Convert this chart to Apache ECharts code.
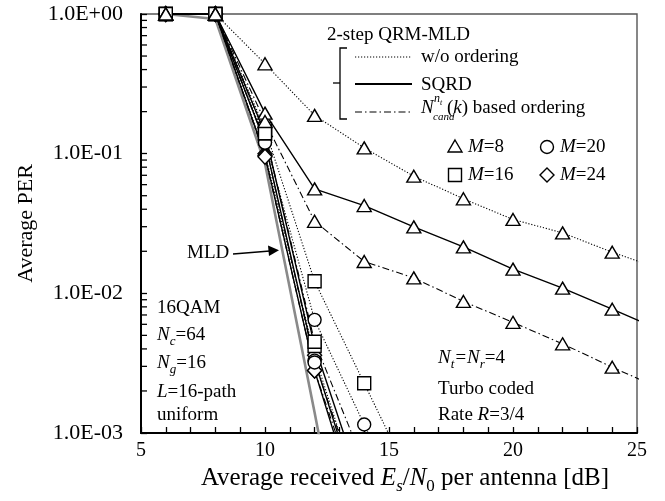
<!DOCTYPE html>
<html>
<head>
<meta charset="utf-8">
<script src="https://cdn.jsdelivr.net/npm/echarts@6/dist/echarts.min.js"></script>
<style>
html, body { margin: 0; padding: 0; background: #fff; }
#chart { width: 665px; height: 501px; }
</style>
</head>
<body>
<div id="chart"></div>
<script>
// x points, Es/N0 [dB]
var snrDb = [6, 8, 10, 12, 14, 16, 18, 20, 22, 24, 26];
var xTickLabels = [5, 10, 15, 20, 25];
var yTickLabels = ['1.0E-03', '1.0E-02', '1.0E-01', '1.0E+00'];

// MLD
var perMld = [1, 0.92, 0.085, 0.0014, 0.00002];
// M=8
var perM8Wo = [1, 1, 0.44, 0.188, 0.110, 0.069, 0.0475, 0.0338, 0.0271, 0.0197, 0.0148];
var perM8Sqrd = [1, 1, 0.195, 0.056, 0.0425, 0.0299, 0.0215, 0.0149, 0.0109, 0.0077, 0.0054];
var perM8Cand = [1, 1, 0.17, 0.0328, 0.0169, 0.0129, 0.00875, 0.0062, 0.00435, 0.00296, 0.00206];
// M=16
var perM16Wo = [1, 1, 0.15, 0.0122, 0.00227, 0.00042];
var perM16Sqrd = [1, 1, 0.14, 0.0042, 0.00036];
var perM16Cand = [1, 1, 0.14, 0.0045, 0.0006];
// M=20
var perM20Wo = [1, 1, 0.125, 0.00646, 0.00115, 0.0002];
var perM20Sqrd = [1, 1, 0.12, 0.0033, 0.00025];
var perM20Cand = [1, 1, 0.12, 0.0032, 0.0003];
// M=24
var perM24Wo = [1, 1, 0.10, 0.0036, 0.00028];
var perM24Sqrd = [1, 1, 0.097, 0.0028, 0.0002];
var perM24Cand = [1, 1, 0.095, 0.0028, 0.00025];

var FONT = 'Liberation Serif, Times New Roman, serif';
var DOTTED = [1.2, 1.8];
var DASHDOT = [7, 3, 1.5, 3];

var symbolSizes = { triangle: [14, 12], rect: 13, circle: 13, diamond: [14, 15] };

function qrmSeries(values, symbol, kind) {
    var style = { color: '#000', width: 1.1, type: 'solid' };
    if (kind === 'wo') style.type = DOTTED;
    if (kind === 'cand') style.type = DASHDOT;
    if (kind === 'sqrd') style.width = 1.4;
    return {
        type: 'line',
        data: values.map(function(v, i) { return [snrDb[i], v]; }),
        symbol: symbol,
        symbolSize: symbolSizes[symbol],
        showAllSymbol: true,
        lineStyle: style,
        itemStyle: { color: '#fff', borderColor: '#000', borderWidth: 1.4 },
        emphasis: { disabled: true },
        z: 3
    };
}

var series = [{
    type: 'line',
    data: perMld.map(function(v, i) { return [snrDb[i], v]; }),
    symbol: 'none',
    lineStyle: { color: '#8a8a8a', width: 2.6 },
    z: 2
}];
[
    [perM24Wo, 'diamond', 'wo'], [perM24Sqrd, 'diamond', 'sqrd'], [perM24Cand, 'diamond', 'cand'],
    [perM20Wo, 'circle', 'wo'], [perM20Sqrd, 'circle', 'sqrd'], [perM20Cand, 'circle', 'cand'],
    [perM16Wo, 'rect', 'wo'], [perM16Sqrd, 'rect', 'sqrd'], [perM16Cand, 'rect', 'cand'],
    [perM8Wo, 'triangle', 'wo'], [perM8Sqrd, 'triangle', 'sqrd'], [perM8Cand, 'triangle', 'cand']
].forEach(function(s) { series.push(qrmSeries(s[0], s[1], s[2])); });

function makeRich(size, sub, lh) {
    return {
        n: { fontFamily: FONT, fontSize: size, lineHeight: lh, color: '#000' },
        i: { fontFamily: FONT, fontSize: size, lineHeight: lh, fontStyle: 'italic', color: '#000' },
        sub: { fontFamily: FONT, fontSize: sub, lineHeight: sub, fontStyle: 'italic', verticalAlign: 'bottom', color: '#000' },
        subn: { fontFamily: FONT, fontSize: sub, lineHeight: sub, verticalAlign: 'bottom', color: '#000' }
    };
}
var rich = makeRich(19, 13, 26);
var titleRich = makeRich(25, 17, 33);

function label(x, y, text) {
    return {
        type: 'text', x: x, y: y, z: 10,
        style: { text: text, rich: rich, fill: '#000', font: '19px ' + FONT,
                 align: 'left', verticalAlign: 'middle', textAlign: 'left', textVerticalAlign: 'middle' }
    };
}
function plain(x, y, text, size, italic) {
    return {
        type: 'text', x: x, y: y, z: 10,
        style: { text: text, fill: '#000', font: (italic ? 'italic ' : '') + size + 'px ' + FONT,
                 align: 'left', verticalAlign: 'middle', textAlign: 'left', textVerticalAlign: 'middle' }
    };
}
function seg(x1, y1, x2, y2, dash, w) {
    return { type: 'line', z: 10, shape: { x1: x1, y1: y1, x2: x2, y2: y2 },
             style: { stroke: '#000', lineWidth: w || 1.3, lineDash: dash || null } };
}
var mk = { fill: '#fff', stroke: '#000', lineWidth: 1.4 };

var annotations = [
    plain(327, 35, '2-step QRM-MLD', 19),
    // bracket
    { type: 'polyline', z: 10, shape: { points: [[347, 48], [340, 48], [340, 119], [347, 119]] }, style: { stroke: '#000', lineWidth: 1.3, fill: null } },
    seg(333, 83, 340, 83),
    seg(355, 57, 412, 57, DOTTED, 1.1),
    seg(355, 84, 412, 84, null, 2),
    seg(355, 112, 412, 112, DASHDOT, 1.1),
    plain(421, 57, 'w/o ordering', 19),
    plain(421, 85, 'SQRD', 19),
    plain(421, 108, 'N', 19, true),
    plain(434, 99, 'n', 12, true),
    plain(440, 103, 't', 8, true),
    plain(433, 117, 'cand', 11, true),
    label(447, 108, '{n|(}{i|k}{n|) based ordering}'),
    // marker legend
    { type: 'polygon', z: 10, shape: { points: [[455, 140], [462, 152], [448, 152]] }, style: mk },
    label(468, 147, '{i|M}{n|=8}'),
    { type: 'circle', z: 10, shape: { cx: 547, cy: 147, r: 6.5 }, style: mk },
    label(560, 147, '{i|M}{n|=20}'),
    { type: 'rect', z: 10, shape: { x: 448.5, y: 168.5, width: 13, height: 13 }, style: mk },
    label(468, 175, '{i|M}{n|=16}'),
    { type: 'polygon', z: 10, shape: { points: [[547, 168], [554, 175], [547, 182], [540, 175]] }, style: mk },
    label(560, 175, '{i|M}{n|=24}'),
    // MLD arrow
    plain(187, 253, 'MLD', 19),
    seg(233, 254, 270, 251),
    { type: 'polygon', z: 10, shape: { points: [[279, 250.3], [268, 245.5], [269, 256]] }, style: { fill: '#000' } },
    // bottom-left
    plain(157, 308, '16QAM', 19),
    label(157, 335, '{i|N}{sub|c}{n|=64}'),
    label(157, 363, '{i|N}{sub|g}{n|=16}'),
    label(157, 392, '{i|L}{n|=16-path}'),
    plain(157, 415, 'uniform', 19),
    // bottom-right
    label(438, 358, '{i|N}{sub|t}{i|=N}{sub|r}{n|=4}'),
    plain(438, 389, 'Turbo coded', 19),
    label(438, 415, '{n|Rate }{i|R}{n|=3/4}')
];

var chart = echarts.init(document.getElementById('chart'));
chart.setOption({
    animation: false,
    backgroundColor: '#fff',
    grid: { left: 141, right: 28, top: 14, bottom: 68, show: true, borderColor: '#555', borderWidth: 1.4, backgroundColor: 'transparent' },
    xAxis: {
        type: 'value', min: 5, max: 25, interval: 1,
        axisLine: { lineStyle: { color: '#000', width: 2 } },
        axisTick: { inside: true, length: 6, lineStyle: { color: '#000', width: 1.3 } },
        axisLabel: {
            margin: 8, color: '#000', fontFamily: FONT, fontSize: 20,
            formatter: function(v) { return xTickLabels.indexOf(v) >= 0 ? String(v) : ''; }
        },
        splitLine: { show: false },
        name: '{n|Average received }{i|E}{sub|s}{n|/}{i|N}{subn|0}{n| per antenna [dB]}',
        nameLocation: 'middle', nameGap: 22,
        nameTextStyle: { rich: titleRich, padding: [0, 0, 0, 32] }
    },
    yAxis: {
        type: 'log', logBase: 10, min: 0.001, max: 1,
        axisLine: { lineStyle: { color: '#000', width: 2 } },
        axisTick: { inside: true, length: 6, lineStyle: { color: '#000', width: 1.3 } },
        axisLabel: {
            margin: 18, color: '#000', fontFamily: FONT, fontSize: 22,
            formatter: function(v) { return yTickLabels[Math.round(Math.log10(v)) + 3]; }
        },
        splitLine: { show: false },
        name: 'Average PER', nameLocation: 'middle', nameGap: 104,
        nameTextStyle: { color: '#000', fontFamily: FONT, fontSize: 22 }
    },
    series: series,
    graphic: annotations
});

// log minor ticks 2..9 per decade, placed through the y scale
var ticks = [];
var x0 = chart.convertToPixel({ xAxisIndex: 0 }, 5);
[0.001, 0.01, 0.1].forEach(function(d) {
    for (var k = 2; k <= 9; k++) {
        var py = chart.convertToPixel({ yAxisIndex: 0 }, d * k);
        ticks.push(seg(x0, py, x0 + 6, py, null, 1.3));
    }
});
chart.setOption({ graphic: annotations.concat(ticks) });
</script>
</body>
</html>
